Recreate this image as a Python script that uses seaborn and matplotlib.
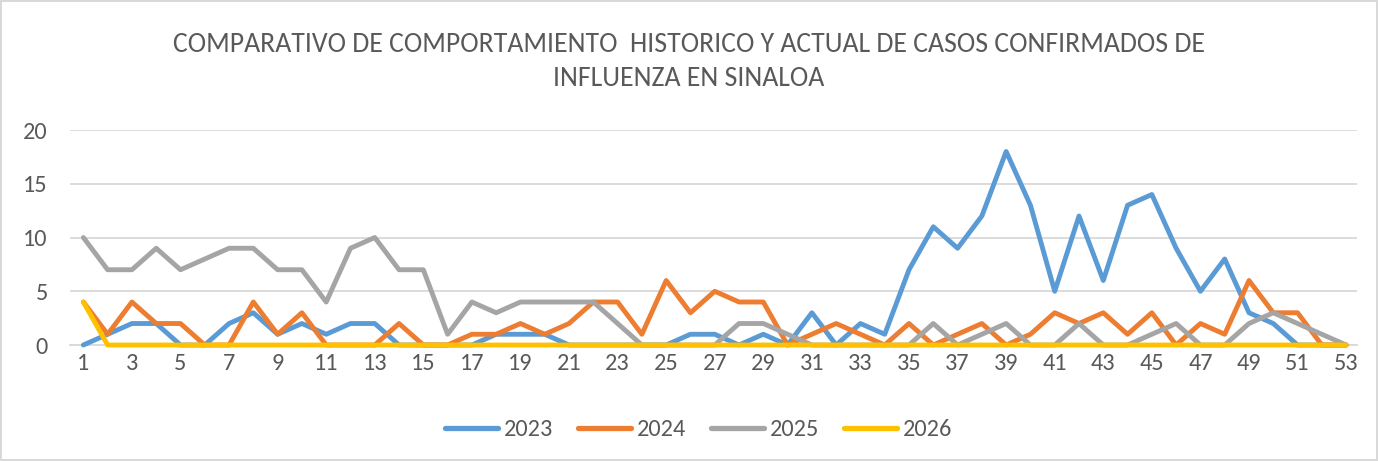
import pandas as pd
import numpy as np
import matplotlib.pyplot as plt
import seaborn as sns

weeks = list(range(1, 54))

casos_2023 = [0, 1, 2, 2, 0, 0, 2, 3, 1, 2, 1, 2, 2, 0, 0, 0, 0, 1, 1, 1,
              0, 0, 0, 0, 0, 1, 1, 0, 1, 0, 3, 0, 2, 1, 7, 11, 9, 12, 18, 13,
              5, 12, 6, 13, 14, 9, 5, 8, 3, 2, 0, 0, 0]
casos_2024 = [4, 1, 4, 2, 2, 0, 0, 4, 1, 3, 0, 0, 0, 2, 0, 0, 1, 1, 2, 1,
              2, 4, 4, 1, 6, 3, 5, 4, 4, 0, 1, 2, 1, 0, 2, 0, 1, 2, 0, 1,
              3, 2, 3, 1, 3, 0, 2, 1, 6, 3, 3, 0, 0]
casos_2025 = [10, 7, 7, 9, 7, 8, 9, 9, 7, 7, 4, 9, 10, 7, 7, 1, 4, 3, 4, 4,
              4, 4, 2, 0, 0, 0, 0, 2, 2, 1, 0, 0, 0, 0, 0, 2, 0, 1, 2, 0,
              0, 2, 0, 0, 1, 2, 0, 0, 2, 3, 2, 1, 0]
casos_2026 = [4] + [0] * 52

years = ['2023', '2024', '2025', '2026']
colors = ['#5B9BD5', '#ED7D31', '#A5A5A5', '#FFC000']

df = pd.DataFrame({'Semana': weeks * 4,
                   'Casos': casos_2023 + casos_2024 + casos_2025 + casos_2026,
                   'Año': np.repeat(years, len(weeks))})

sns.set_style('white')
plt.rcParams['font.family'] = ['Calibri', 'Carlito', 'DejaVu Sans']

fig = plt.figure(figsize=(13.78, 4.61), dpi=100)
fig.patch.set_edgecolor('#D9D9D9')
fig.patch.set_linewidth(1.5)
ax = fig.add_axes([0.0508, 0.2516, 0.934, 0.4664])

sns.lineplot(data=df, x='Semana', y='Casos', hue='Año', palette=colors,
             linewidth=3.5, ax=ax, legend=False)
for ln in ax.lines:
    ln.set_clip_on(False)
    ln.set_solid_joinstyle('round')
    ln.set_solid_capstyle('round')

ax.set_xlim(0.45, 53.45)
ax.set_ylim(0, 20)
ax.set_yticks([0, 5, 10, 15, 20])
ax.set_xticks(list(range(1, 54, 2)))
ax.grid(axis='y', color='#D9D9D9', linewidth=1.3)
ax.set_axisbelow(True)
for s in ['top', 'right', 'left']:
    ax.spines[s].set_visible(False)
ax.spines['bottom'].set_color('#D9D9D9')
ax.spines['bottom'].set_linewidth(1.3)
ax.spines['bottom'].set_zorder(0)
ax.tick_params(axis='both', length=0, labelsize=17.5, colors='#595959')
ax.tick_params(axis='y', pad=16)
ax.tick_params(axis='x', pad=6)
ax.set_xlabel('')
ax.set_ylabel('')

fig.suptitle('COMPARATIVO DE COMPORTAMIENTO  HISTORICO Y ACTUAL DE CASOS CONFIRMADOS DE\nINFLUENZA EN SINALOA',
             x=0.5, y=0.93, fontsize=20, color='#595959', linespacing=1.45)

handles = [plt.Line2D([0], [0], color=c, lw=3.8, solid_capstyle='round') for c in colors]
fig.legend(handles, years, loc='center', bbox_to_anchor=(0.507, 0.068), ncol=4,
           frameon=False, fontsize=17.5, handlelength=2.2, handletextpad=0.25,
           columnspacing=1.0, labelcolor='#595959')

plt.savefig('out.png', dpi=100)
